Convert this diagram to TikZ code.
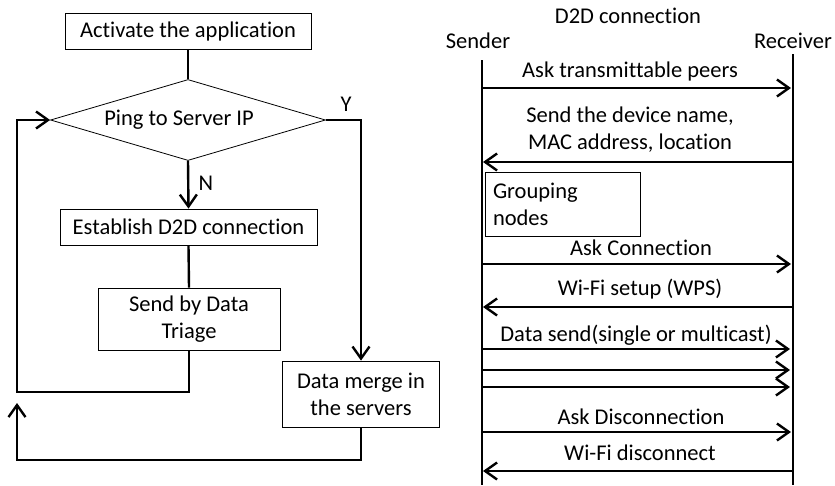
\documentclass[tikz,border=0pt]{standalone}
\usepackage{fontspec}
\setmainfont{Carlito}[Ligatures=NoCommon]
\usetikzlibrary{shapes.geometric,arrows.meta}

\begin{document}
\begin{tikzpicture}[x=1pt,y=-1pt,
  txt/.style={font=\fontsize{22.5}{27}\selectfont, inner sep=0pt},
  box/.style={txt, draw, line width=0.8pt, align=center},
  flow/.style={line width=2.4pt},
  barb/.style={-{Straight Barb[length=12pt,width=17pt,line width=2.4pt]}},
  lifeline/.style={line width=2.4pt},
  msg/.style={line width=2.4pt, barb}]
\useasboundingbox (0,0) rectangle (835,485);

% ---------- flowchart ----------
\node[box, minimum width=246, minimum height=36] (act) at (188,31) {Activate the application};
\node[diamond, draw, line width=0.8pt, minimum width=275, minimum height=81, inner sep=0pt] (ping) at (188,120) {};
\node[txt] (pinglbl) at (179,120) {Ping to Server IP};
\node[box, minimum width=257, minimum height=36] (est) at (188.5,227) {Establish D2D connection};
\node[box, minimum width=182, minimum height=62] (snd) at (189,319) {Send by Data\\Triage};
\node[box, minimum width=157, minimum height=66] (merge) at (361,394) {Data merge in\\the servers};
\node[txt] (ylbl) at (346,104) {Y};
\node[txt] (nlbl) at (206,183) {N};

\coordinate (loopA) at (17,392);
\coordinate (loopB) at (17,460);
\coordinate (loopC) at (17,403);

\draw[flow] (act.south) -- (ping.north);
\draw[flow, barb] (ping.south) -- (est.north);
\draw[flow] (est.south) -- (snd.north);
\draw[flow, barb] (snd.south) |- (loopA) |- (ping.west);
\draw[flow, barb] (ping.east) -| (merge.north);
\draw[flow, barb] (merge.south) |- (loopB) -- (loopC);

% ---------- D2D sequence ----------
\node[txt] (title) at (628,16) {D2D connection};
\node[txt] (sender) at (478,41) {Sender};
\node[txt] (receiver) at (793,41) {Receiver};

\coordinate (sTop) at (482,60);
\coordinate (sBot) at (482,485);
\coordinate (rTop) at (793,54);
\coordinate (rBot) at (793,485);
\draw[lifeline] (sTop) -- (sBot);
\draw[lifeline] (rTop) -- (rBot);

\foreach \n/\y in {m1/88, m2/162, m3/264, m4/307, m5/349, m6/370, m7/387, m8/432, m9/471}{
  \coordinate (s\n) at (482,\y);
  \coordinate (r\n) at (793,\y);
}

\node[txt] (l1) at (630,71) {Ask transmittable peers};
\draw[msg, shorten >=2pt] (sm1) -- (rm1);

\node[txt, align=center] (l2) at (630,130) {Send the device name,\\MAC address, location};
\draw[msg, shorten >=1pt] (rm2) -- (sm2);

\node[box, minimum width=155, minimum height=64, text width=139, inner xsep=8pt, align=left] (grp) at (562.5,204) {Grouping\\nodes};

\node[txt] (l3) at (641,248) {Ask Connection};
\draw[msg, shorten >=2pt] (sm3) -- (rm3);

\node[txt] (l4) at (640,289) {Wi-Fi setup (WPS)};
\draw[msg, shorten >=1pt] (rm4) -- (sm4);

\node[txt] (l5) at (636,335) {Data send(single or multicast)};
\draw[msg, shorten >=3pt] (sm5) -- (rm5);
\draw[msg, shorten >=3pt] (sm6) -- (rm6);
\draw[msg, shorten >=3pt] (sm7) -- (rm7);

\node[txt] (l6) at (641,417) {Ask Disconnection};
\draw[msg, shorten >=2pt] (sm8) -- (rm8);

\node[txt] (l7) at (640,453) {Wi-Fi disconnect};
\draw[msg, shorten >=1pt] (rm9) -- (sm9);
\end{tikzpicture}
\end{document}
